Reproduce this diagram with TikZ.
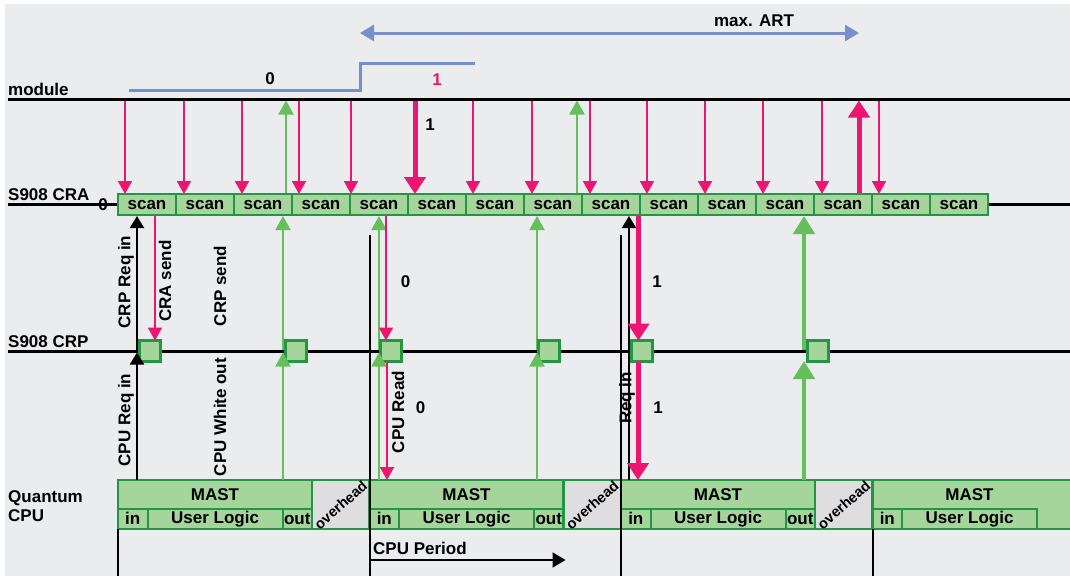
\documentclass[tikz,border=0pt]{standalone}
\usepackage{fontspec}
\setmainfont{Liberation Sans}
\usetikzlibrary{arrows.meta}
\definecolor{bg}{RGB}{235,236,238}
\definecolor{pk}{RGB}{236,22,112}
\definecolor{gr}{RGB}{102,190,92}
\definecolor{gfill}{RGB}{166,213,156}
\definecolor{gdark}{RGB}{35,150,70}
\definecolor{bl}{RGB}{122,142,204}
\definecolor{ovh}{RGB}{222,222,224}
\begin{document}
\begin{tikzpicture}[x=1pt,y=-1pt,
 lbl/.style={font=\fontsize{17}{20}\selectfont\bfseries, inner sep=0pt},
 scanbox/.style={draw=gdark, line width=2.2pt, fill=gfill, minimum width=58pt, minimum height=21pt, inner sep=0pt, outer sep=0pt, anchor=north west, font=\fontsize{17}{20}\selectfont\bfseries},
 sq/.style={draw=gdark, line width=2.2pt, fill=gfill, minimum size=21pt, inner sep=0pt, outer sep=0pt},
 cpubox/.style={draw=gdark, line width=2.2pt, fill=gfill, minimum height=20.4pt, inner sep=0pt, outer sep=0pt, anchor=north west, font=\fontsize{17}{20}\selectfont\bfseries},
 cpuframe/.style={draw=gdark, line width=2.2pt, fill=gfill},
 ovframe/.style={draw=gdark, line width=2.2pt, fill=ovh},
 ovtext/.style={font=\fontsize{14.5}{16}\selectfont\bfseries, inner sep=0pt, rotate=41},
 pthin/.style={pk, line width=2pt, -{Triangle[width=14pt,length=13pt]}},
 pthick/.style={pk, line width=5pt, -{Triangle[width=21pt,length=17pt]}},
 gthin/.style={gr, line width=2pt, -{Triangle[width=15pt,length=14pt]}},
 gthick/.style={gr, line width=4.5pt, -{Triangle[width=21pt,length=18pt]}},
 barr/.style={black, line width=2pt, -{Triangle[width=14pt,length=12pt]}},
 hline/.style={black, line width=3pt},
 vline/.style={black, line width=2pt},
 rlbl/.style={lbl, rotate=90},
]
\useasboundingbox (0,0) rectangle (1070,576);
\fill[white] (0,0) rectangle (1070,576);
\fill[bg] (5,4) rectangle (1070,576);

% level coordinates
\coordinate (modL) at (8,99);   \coordinate (modR) at (1070,99);
\coordinate (craL) at (8,204);  \coordinate (craR) at (1070,204);
\coordinate (crpL) at (8,351);  \coordinate (crpR) at (1070,351);
\coordinate (modB) at (0,100.5);
\coordinate (craT) at (0,194);
\coordinate (craB) at (0,216);
\coordinate (crpT) at (0,350);
\coordinate (crpB) at (0,352.5);
\coordinate (cpuT) at (0,480);

% horizontal lines
\draw[hline] (modL) -- (modR);
\draw[hline] (craL) -- (craR);
\draw[hline] (crpL) -- (crpR);

% row labels
\node[lbl, anchor=base west] (lmod) at (8,95) {module};
\node[lbl, anchor=base west] (lcra) at (8,200.5) {S908 CRA};
\node[lbl, anchor=base west] (lcrp) at (8,347) {S908 CRP};
\node[lbl, anchor=base west] (lq1) at (8,502.5) {Quantum};
\node[lbl, anchor=base west] (lq2) at (8,521.5) {CPU};
\node[lbl] (zero) at (103,205) {0};

% module signal
\coordinate (b1) at (129,90.5); \coordinate (b2) at (360,90.5);
\coordinate (b3) at (360,63);   \coordinate (b4) at (475,63);
\draw[bl, line width=3pt] (b1) -- (b2) -- (b3) -- (b4);
\node[lbl] (v0) at (270,79) {0};
\node[lbl, text=pk] (v1) at (437,80) {1};

% max ART
\coordinate (artL) at (360,33); \coordinate (artR) at (859,33);
\draw[bl, line width=3pt, {Triangle[width=16pt,length=14pt]}-{Triangle[width=16pt,length=14pt]}] (artL) -- (artR);
\node[lbl] (art) at (754,21) {max. ART};

% arrows module -> CRA
\foreach \x in {125,184,242,299,351,473,532,590,647,705,763,822,879}
  \draw[pthin] (\x,0 |- modB) -- (\x,0 |- craT);
\draw[pthick] (415,0 |- modB) -- (415,0 |- craT);
\draw[gthin] (286,0 |- craT) -- (286,0 |- modB);
\draw[gthin] (577,0 |- craT) -- (577,0 |- modB);
\draw[pthick] (859,0 |- craT) -- (859,0 |- modB);
\node[lbl] (n1a) at (430,125) {1};

% scan boxes
\foreach \i in {0,...,14}
  \node[scanbox] (s\i) at ({118+58*\i},194) {scan};

% CPU row
\foreach \s [count=\k] in {118,369.5,621}{
  \draw[cpuframe] (\s,480.3) rectangle ({\s+194},529);
  \node[lbl] (mast\k) at ({\s+97},494.5) {MAST};
  \node[cpubox, minimum width=29.6pt] (in\k) at (\s,508.6) {in};
  \node[cpubox, minimum width=135pt] (ul\k) at (in\k.north east) {User Logic};
  \node[cpubox, minimum width=29.4pt] (out\k) at (ul\k.north east) {out};
  \draw[ovframe] ({\s+194},480.3) rectangle ({\s+251.5},529);
  \node[ovtext] (ov\k) at ({\s+222.7},505) {overhead};
}
\draw[cpuframe] (872.5,480.3) rectangle (1076,529);
\node[lbl] (mast4) at (969.5,494.5) {MAST};
\node[cpubox, minimum width=29.6pt] (in4) at (872.5,508.6) {in};
\node[cpubox, minimum width=135pt] (ul4) at (in4.north east) {User Logic};

% CRA <-> CRP arrows
\draw[barr] (137,0 |- crpT) -- (137,0 |- craB);
\draw[gthin] (283,0 |- crpT) -- (283,0 |- craB);
\draw[gthin] (379,0 |- crpT) -- (379,0 |- craB);
\draw[gthin] (537,0 |- crpT) -- (537,0 |- craB);
\draw[gthick] (804,0 |- crpT) -- (804,0 |- craB);
\draw[barr] (629,0 |- cpuT) -- (629,0 |- craB);

% squares
\foreach \x/\n in {150/1,296/2,391/3,549/4,642/5,818/6}
  \node[sq] (q\n) at (\x,351) {};

\draw[pthin] (155,0 |- craB) -- (155,0 |- q1.north);
\draw[pthin] (386,0 |- craB) -- (386,0 |- q3.north);
\draw[pthick] (638.5,0 |- craB) -- (638.5,0 |- q5.north);

% CRP <-> CPU arrows
\draw[barr] (137,0 |- cpuT) -- (137,0 |- crpB);
\draw[gthin] (283,0 |- cpuT) -- (283,0 |- crpB);
\draw[gthin] (379,0 |- cpuT) -- (379,0 |- crpB);
\draw[gthin] (537,0 |- cpuT) -- (537,0 |- crpB);
\draw[gthick] (804,0 |- cpuT) -- (804,361);
\draw[pthin] (387,0 |- q3.south) -- (387,0 |- cpuT);
\draw[pthick] (638,0 |- q5.south) -- (638,0 |- cpuT);

% rotated labels
\node[rlbl] (l1) at (126,282) {CRP Req in};
\node[rlbl] (l2) at (165,281) {CRA send};
\node[rlbl] (l3) at (220,286) {CRP send};
\node[rlbl] (l4) at (126,420) {CPU Req in};
\node[rlbl] (l5) at (220,417) {CPU White out};
\node[rlbl] (l6) at (398,412) {CPU Read};
\node[rlbl] (l7) at (627,398) {Req in};

% value labels
\node[lbl] (n0b) at (405.6,281.6) {0};
\node[lbl] (n1b) at (657,281.7) {1};
\node[lbl] (n0c) at (420.7,408) {0};
\node[lbl] (n1c) at (658,408) {1};

% period boundaries
\draw[vline] (370,235) -- (370,576);
\draw[vline] (620.6,235) -- (620.6,576);
\draw[vline] (118,529) -- (118,576);
\draw[vline] (872.5,529) -- (872.5,576);

% CPU period
\coordinate (cpS) at (370,560); \coordinate (cpE) at (565.5,560);
\draw[black, line width=2pt, -{Triangle[width=15pt,length=13pt]}] (cpS) -- (cpE);
\node[lbl, anchor=west] (cpl) at (373,548.5) {CPU Period};
\end{tikzpicture}
\end{document}
